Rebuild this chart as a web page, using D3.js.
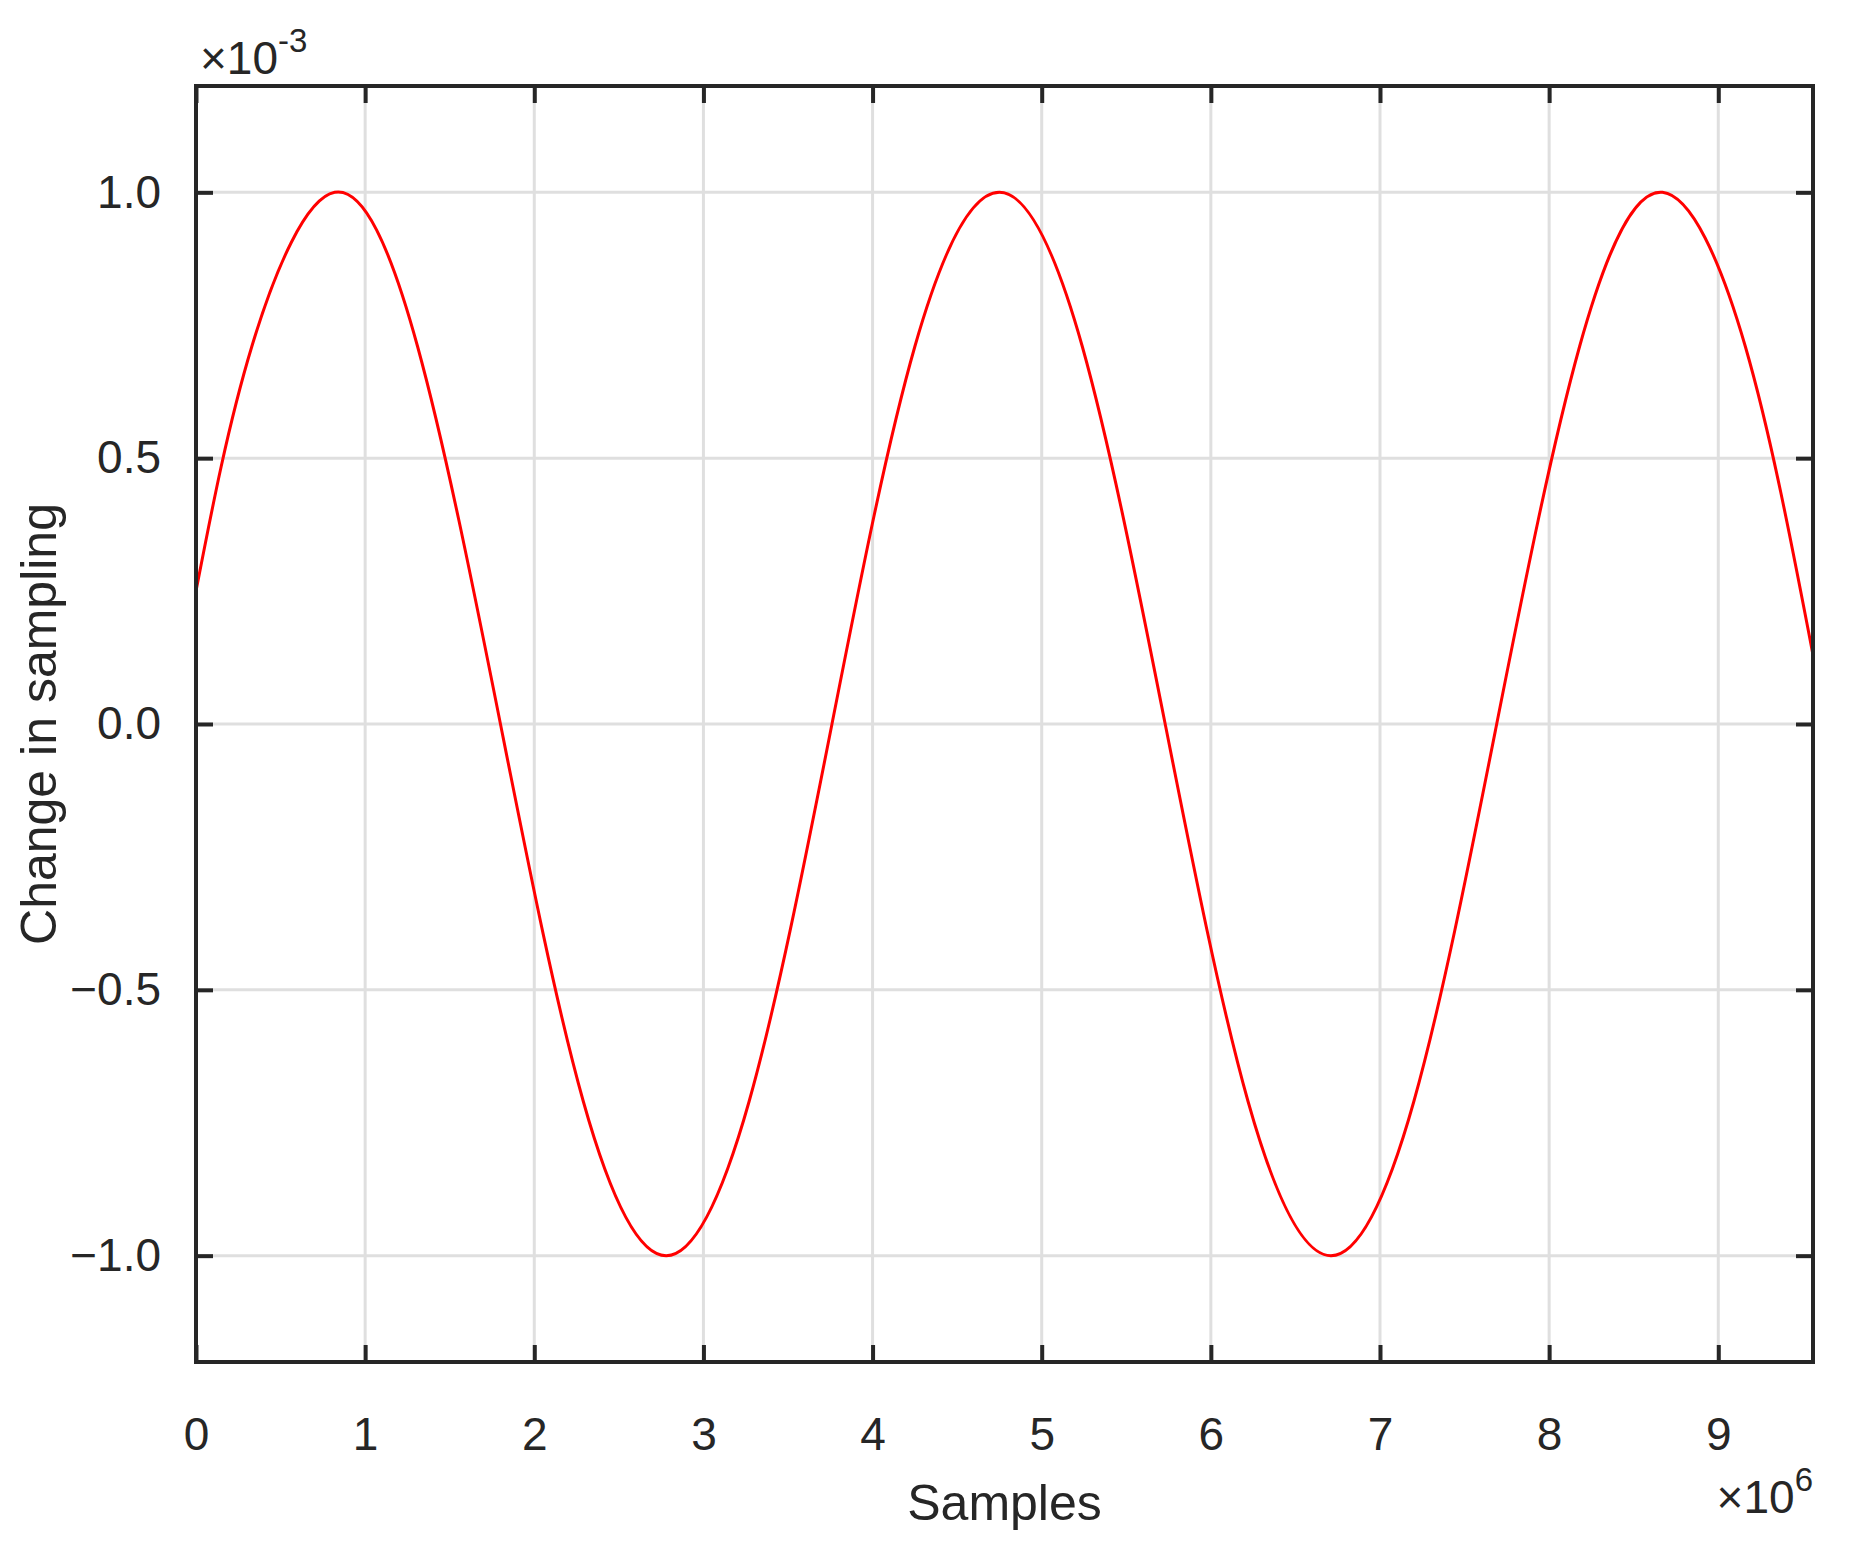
<!DOCTYPE html>
<html lang="en">
<head>
<meta charset="UTF-8">
<title>Change in sampling</title>
<script src="https://d3js.org/d3.v7.min.js"></script>
<style>
  body { margin: 0; background: #fff; }
  text { font-family: "Liberation Sans", Arial, sans-serif; fill: #262626; }
</style>
</head>
<body>
<svg id="chart" width="1873" height="1562"></svg>
<script>
// values (x in 1e6 samples, y in 1e-3)
const sampleX = [0, 0.33, 0.82, 1.31, 1.80, 2.29, 2.78, 3.27, 3.76, 4.25, 4.75, 5.24, 5.73, 6.22, 6.71, 7.20, 7.69, 8.18, 8.67, 9.16, 9.56];
const changeY = [0.25, 0.71, 1.0, 0.71, 0.0, -0.71, -1.0, -0.71, 0.0, 0.71, 1.0, 0.71, 0.0, -0.71, -1.0, -0.71, 0.0, 0.71, 1.0, 0.71, 0.13];
const xTicks = [0, 1, 2, 3, 4, 5, 6, 7, 8, 9];
const yTicks = [-1, -0.5, 0, 0.5, 1];

const pLeft = 196, pRight = 1813, pTop = 86, pBottom = 1362;
const svg = d3.select('#chart');
const x = d3.scaleLinear().domain([0, 9.56]).range([pLeft, pRight]);
const y = d3.scaleLinear().domain([-1.2, 1.2]).range([pBottom, pTop]);

// grid
svg.append('g').selectAll('line').data(xTicks.slice(1)).join('line')
    .attr('x1', d => x(d)).attr('x2', d => x(d)).attr('y1', pTop).attr('y2', pBottom)
    .attr('stroke', '#dfdfdf').attr('stroke-width', 3);
svg.append('g').selectAll('line').data(yTicks).join('line')
    .attr('y1', d => y(d)).attr('y2', d => y(d)).attr('x1', pLeft).attr('x2', pRight)
    .attr('stroke', '#dfdfdf').attr('stroke-width', 3);

// curve
const pts = sampleX.map((v, i) => [v, changeY[i]]);
svg.append('path').datum(pts)
    .attr('fill', 'none').attr('stroke', '#ff0000').attr('stroke-width', 3)
    .attr('d', d3.line().x(d => x(d[0])).y(d => y(d[1])).curve(d3.curveNatural));

// axes (ticks inward, box)
const tl = 17;
const xb = svg.append('g').attr('transform', `translate(0,${pBottom})`)
    .call(d3.axisBottom(x).tickValues(xTicks).tickSize(-tl).tickPadding(tl + 38).tickSizeOuter(0));
const xt = svg.append('g').attr('transform', `translate(0,${pTop})`)
    .call(d3.axisTop(x).tickValues(xTicks).tickSize(-tl).tickFormat('').tickSizeOuter(0));
const yl = svg.append('g').attr('transform', `translate(${pLeft},0)`)
    .call(d3.axisLeft(y).tickValues(yTicks).tickSize(-tl).tickPadding(tl + 18).tickSizeOuter(0));
const yr = svg.append('g').attr('transform', `translate(${pRight},0)`)
    .call(d3.axisRight(y).tickValues(yTicks).tickSize(-tl).tickFormat('').tickSizeOuter(0));
[xb, xt, yl, yr].forEach(g => {
  g.select('.domain').remove();
  g.selectAll('line').attr('stroke', '#262626').attr('stroke-width', 4);
  g.selectAll('text').attr('font-size', 46).attr('fill', '#262626')
    .style('font-family', '"Liberation Sans", Arial, sans-serif');
});
svg.append('rect').attr('x', pLeft).attr('y', pTop).attr('width', pRight - pLeft).attr('height', pBottom - pTop)
    .attr('fill', 'none').attr('stroke', '#262626').attr('stroke-width', 4);

// labels
svg.append('text').attr('x', (pLeft + pRight) / 2).attr('y', 1520).attr('text-anchor', 'middle')
    .attr('font-size', 50).text('Samples');
svg.append('text').attr('transform', `translate(56,${(pTop + pBottom) / 2}) rotate(-90)`)
    .attr('text-anchor', 'middle').attr('font-size', 50).text('Change in sampling');

const ex = svg.append('text').attr('x', 200).attr('y', 74).attr('font-size', 46);
ex.append('tspan').text('\u00d710');
ex.append('tspan').attr('dy', -22).attr('font-size', 33).text('-3');
const ex2 = svg.append('text').attr('x', pRight).attr('y', 1513).attr('text-anchor', 'end').attr('font-size', 46);
ex2.append('tspan').text('\u00d710');
ex2.append('tspan').attr('dy', -22).attr('font-size', 33).text('6');
</script>
</body>
</html>
